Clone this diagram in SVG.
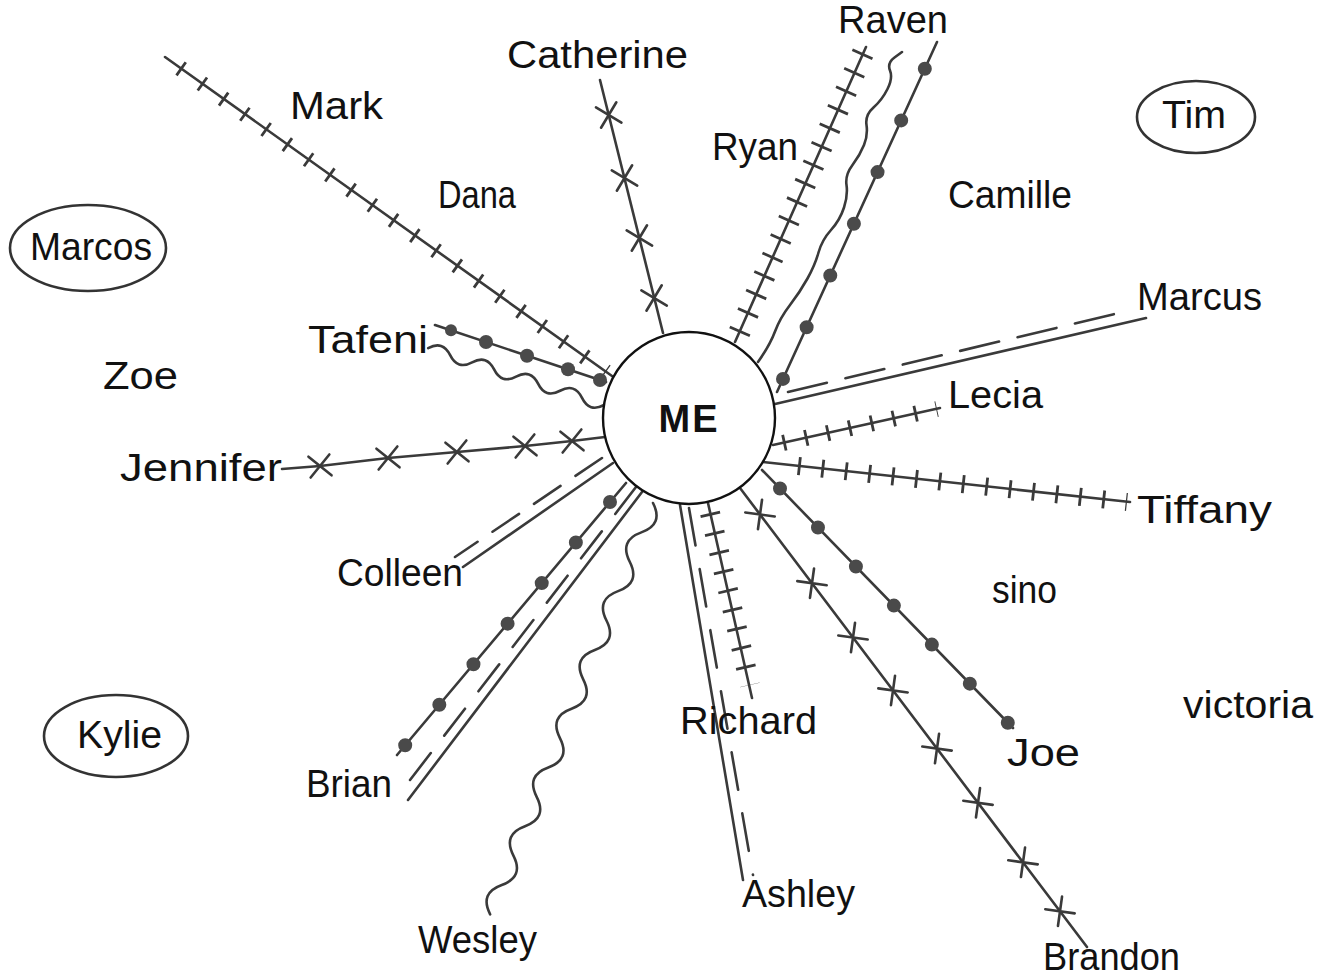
<svg xmlns="http://www.w3.org/2000/svg" xmlns:xlink="http://www.w3.org/1999/xlink" width="1325" height="977" viewBox="0 0 1325 977">
<style>
.ln{fill:none;stroke:#3a3a3a;stroke-width:2.6;stroke-linecap:round;stroke-linejoin:round}
.tk{fill:none;stroke:#3a3a3a}
.dot{fill:none;stroke:#4a4a4a;stroke-width:14;stroke-linecap:round}
.bd{fill:#4a4a4a}
.ring{fill:none;stroke:#333;stroke-width:2.6}
.lbl{font-family:"Liberation Sans",Arial,sans-serif;font-size:38px;fill:#111}
</style>
<defs>
<path id="xm" d="M-10.5,-10.5L10.5,10.5M-10.5,10.5L10.5,-10.5" class="ln"/>
</defs>
<rect width="1325" height="977" fill="#fff"/>
<g id="connectors">
  <!-- Mark: ticks -->
  <line class="ln" x1="165" y1="57" x2="612" y2="376"/>
  <line class="tk" x1="180" y1="68" x2="606" y2="372" stroke-width="16" stroke-dasharray="2.8 23.3"/>
  <!-- Catherine: x marks -->
  <line class="ln" x1="600" y1="80" x2="663" y2="333"/>
  <use xlink:href="#xm" href="#xm" transform="translate(608.7,115) rotate(76)"/>
  <use xlink:href="#xm" href="#xm" transform="translate(624.5,178) rotate(76)"/>
  <use xlink:href="#xm" href="#xm" transform="translate(639.4,238) rotate(76)"/>
  <use xlink:href="#xm" href="#xm" transform="translate(654.1,298) rotate(76)"/>
  <!-- Ryan: ticks -->
  <line class="ln" x1="735" y1="342" x2="866" y2="47"/>
  <line class="tk" x1="863" y1="53" x2="738" y2="335.5" stroke-width="22" stroke-dasharray="2.8 17.4"/>
  <!-- Raven: wavy -->
  <path class="ln" d="M758,362 Q770,345 775,331.5 Q780,318 790,305 Q800,292 807.5,278.5 Q815,265 818.5,252.5 Q822,240 831,230 Q840,220 844,207.5 Q848,195 846.5,185 Q845,175 852.5,165 Q860,155 864,145 Q868,135 866.5,125 Q865,115 873.5,107.5 Q882,100 887.5,89 Q893,78 890,70.5 Q887,63 894.5,57.5 L902,52"/>
  <!-- Raven: dots -->
  <line class="ln" x1="777" y1="392" x2="937" y2="42"/>
  <line class="dot" x1="783" y1="378.9" x2="925" y2="68.3" stroke-dasharray="0 56.85"/>
  <!-- Marcus: double dashed -->
  <line class="ln" x1="775" y1="404" x2="1146" y2="318"/>
  <line class="ln" x1="788" y1="392" x2="1123" y2="312" stroke-dasharray="40 19" stroke-linecap="butt"/>
  <!-- Lecia: ticks -->
  <line class="ln" x1="773" y1="445" x2="940" y2="408"/>
  <line class="tk" x1="783" y1="443" x2="937" y2="409" stroke-width="16" stroke-dasharray="2.8 19.6"/>
  <!-- Tiffany: ticks -->
  <line class="ln" x1="763" y1="462" x2="1130" y2="502"/>
  <line class="tk" x1="798" y1="466" x2="1127" y2="502" stroke-width="18" stroke-dasharray="2.8 20.75"/>
  <!-- Joe: dots -->
  <line class="ln" x1="762" y1="470" x2="1013" y2="728"/>
  <line class="dot" x1="780" y1="488.5" x2="1008" y2="722.9" stroke-dasharray="0 54.45"/>
  <!-- Brandon: x marks -->
  <line class="ln" x1="740" y1="488" x2="1087" y2="947"/>
  <use xlink:href="#xm" href="#xm" transform="translate(760,514.5) rotate(52.9)"/>
  <use xlink:href="#xm" href="#xm" transform="translate(812,583.2) rotate(52.9)"/>
  <use xlink:href="#xm" href="#xm" transform="translate(853,637.5) rotate(52.9)"/>
  <use xlink:href="#xm" href="#xm" transform="translate(893,690.4) rotate(52.9)"/>
  <use xlink:href="#xm" href="#xm" transform="translate(937,748.6) rotate(52.9)"/>
  <use xlink:href="#xm" href="#xm" transform="translate(978,802.8) rotate(52.9)"/>
  <use xlink:href="#xm" href="#xm" transform="translate(1023,862.3) rotate(52.9)"/>
  <use xlink:href="#xm" href="#xm" transform="translate(1060,911.3) rotate(52.9)"/>
  <!-- Richard: ticks -->
  <line class="ln" x1="708" y1="503" x2="752" y2="698"/>
  <line class="tk" x1="710" y1="513" x2="750" y2="685" stroke-width="20" stroke-dasharray="2.8 16.8"/>
  <!-- Ashley: double dashed -->
  <line class="ln" x1="680" y1="505" x2="743" y2="880"/>
  <line class="ln" x1="689" y1="508" x2="753" y2="875" stroke-dasharray="38 24" stroke-linecap="butt"/>
  <!-- Wesley: wavy -->
  <path class="ln" transform="translate(653,503) rotate(111.6)" d="M0,0 q15.8,-18 31.6,0 t31.6,0 t31.6,0 t31.6,0 t31.6,0 t31.6,0 t31.6,0 t31.6,0 t31.6,0 t31.6,0 t31.6,0 t31.6,0 t31.6,0 t31.6,0"/>
  <!-- Brian: dots -->
  <line class="ln" x1="626" y1="483" x2="397" y2="755"/>
  <line class="dot" x1="610" y1="502" x2="405" y2="745.5" stroke-dasharray="0 53"/>
  <!-- Brian: double dashed -->
  <line class="ln" x1="642" y1="492" x2="408" y2="800"/>
  <line class="ln" x1="636" y1="487" x2="410" y2="780" stroke-dasharray="34 22" stroke-linecap="butt"/>
  <!-- Colleen: double dashed -->
  <line class="ln" x1="613" y1="463" x2="463" y2="567"/>
  <line class="ln" x1="602" y1="458" x2="455" y2="557" stroke-dasharray="32 18" stroke-linecap="butt"/>
  <!-- Jennifer: x marks -->
  <polyline class="ln" points="282,469 320,466 388,458 457,452 525,446 572,441 605,437"/>
  <use xlink:href="#xm" href="#xm" transform="translate(320,466) rotate(-6)"/>
  <use xlink:href="#xm" href="#xm" transform="translate(388,458) rotate(-6)"/>
  <use xlink:href="#xm" href="#xm" transform="translate(457,452) rotate(-6)"/>
  <use xlink:href="#xm" href="#xm" transform="translate(525,446) rotate(-6)"/>
  <use xlink:href="#xm" href="#xm" transform="translate(572,441) rotate(-6)"/>
  <!-- Tafeni: dots -->
  <line class="ln" x1="435" y1="325" x2="606" y2="382"/>
  <circle class="bd" cx="451" cy="330.3" r="6"/>
  <circle class="bd" cx="486" cy="342" r="7"/>
  <circle class="bd" cx="527" cy="355.7" r="7"/>
  <circle class="bd" cx="568" cy="369.3" r="7"/>
  <circle class="bd" cx="600" cy="380" r="7"/>
  <!-- Tafeni: wavy -->
  <path class="ln" transform="translate(604,405) rotate(-162.06)" d="M0,0 q11.55,-12 23.1,0 t23.1,0 t23.1,0 t23.1,0 t23.1,0 t23.1,0 t23.1,0 t23.1,0"/>
</g>
<g id="node-me">
  <circle cx="689" cy="418" r="86" fill="#fff" stroke="#111" stroke-width="2.4"/>
  <text x="689" y="432" text-anchor="middle" font-family="'Liberation Sans',Arial,sans-serif" font-weight="bold" font-size="38" letter-spacing="2" fill="#111">ME</text>
</g>
<g id="node-catherine"><text class="lbl" x="507" y="68" textLength="181" lengthAdjust="spacingAndGlyphs">Catherine</text></g>
<g id="node-raven"><text class="lbl" x="838" y="33" textLength="110" lengthAdjust="spacingAndGlyphs">Raven</text></g>
<g id="node-mark"><text class="lbl" x="290" y="119" textLength="93" lengthAdjust="spacingAndGlyphs">Mark</text></g>
<g id="node-dana"><text class="lbl" x="438" y="208" textLength="78" lengthAdjust="spacingAndGlyphs">Dana</text></g>
<g id="node-ryan"><text class="lbl" x="712" y="160" textLength="86" lengthAdjust="spacingAndGlyphs">Ryan</text></g>
<g id="node-camille"><text class="lbl" x="948" y="208" textLength="124" lengthAdjust="spacingAndGlyphs">Camille</text></g>
<g id="node-tim">
  <ellipse class="ring" cx="1196" cy="117" rx="59" ry="36"/>
  <text class="lbl" x="1162" y="128" textLength="64" lengthAdjust="spacingAndGlyphs">Tim</text>
</g>
<g id="node-marcos">
  <ellipse class="ring" cx="88" cy="248" rx="78" ry="43"/>
  <text class="lbl" x="30" y="260" textLength="122" lengthAdjust="spacingAndGlyphs">Marcos</text>
</g>
<g id="node-zoe"><text class="lbl" x="103" y="389" textLength="75" lengthAdjust="spacingAndGlyphs">Zoe</text></g>
<g id="node-tafeni"><text class="lbl" x="308" y="353" textLength="120" lengthAdjust="spacingAndGlyphs">Tafeni</text></g>
<g id="node-jennifer"><text class="lbl" x="120" y="481" textLength="162" lengthAdjust="spacingAndGlyphs">Jennifer</text></g>
<g id="node-colleen"><text class="lbl" x="337" y="586" textLength="126" lengthAdjust="spacingAndGlyphs">Colleen</text></g>
<g id="node-kylie">
  <ellipse class="ring" cx="116" cy="736" rx="72" ry="41"/>
  <text class="lbl" x="77" y="748" textLength="85" lengthAdjust="spacingAndGlyphs">Kylie</text>
</g>
<g id="node-brian"><text class="lbl" x="306" y="797" textLength="86" lengthAdjust="spacingAndGlyphs">Brian</text></g>
<g id="node-wesley"><text class="lbl" x="418" y="953" textLength="119" lengthAdjust="spacingAndGlyphs">Wesley</text></g>
<g id="node-richard"><text class="lbl" x="680" y="734" textLength="137" lengthAdjust="spacingAndGlyphs">Richard</text></g>
<g id="node-ashley"><text class="lbl" x="742" y="907" textLength="113" lengthAdjust="spacingAndGlyphs">Ashley</text></g>
<g id="node-brandon"><text class="lbl" x="1043" y="970" textLength="137" lengthAdjust="spacingAndGlyphs">Brandon</text></g>
<g id="node-joe"><text class="lbl" x="1007" y="766" textLength="73" lengthAdjust="spacingAndGlyphs">Joe</text></g>
<g id="node-victoria"><text class="lbl" x="1183" y="718" textLength="130" lengthAdjust="spacingAndGlyphs">victoria</text></g>
<g id="node-sino"><text class="lbl" x="992" y="603" textLength="65" lengthAdjust="spacingAndGlyphs">sino</text></g>
<g id="node-tiffany"><text class="lbl" x="1137" y="523" textLength="135" lengthAdjust="spacingAndGlyphs">Tiffany</text></g>
<g id="node-lecia"><text class="lbl" x="948" y="408" textLength="95" lengthAdjust="spacingAndGlyphs">Lecia</text></g>
<g id="node-marcus"><text class="lbl" x="1137" y="310" textLength="125" lengthAdjust="spacingAndGlyphs">Marcus</text></g>
</svg>
